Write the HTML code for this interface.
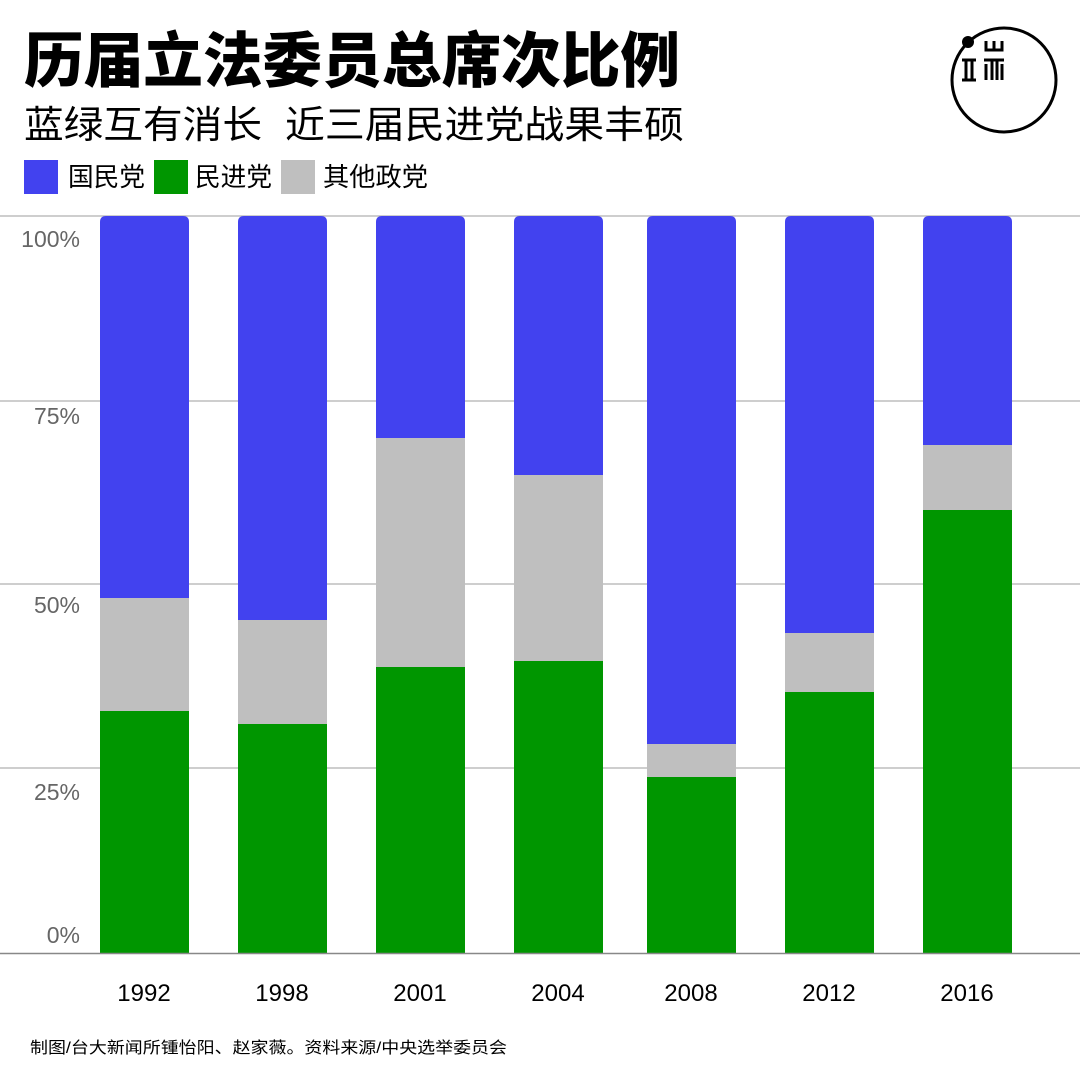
<!DOCTYPE html>
<html><head><meta charset="utf-8"><style>
html,body{margin:0;padding:0;background:#fff;}
svg{display:block;}
</style></head><body>
<svg width="1080" height="1080" viewBox="0 0 1080 1080" xmlns="http://www.w3.org/2000/svg" font-family="'Liberation Sans','Noto Sans CJK SC',sans-serif">
<text x="24" y="82" font-size="60" font-weight="900" textLength="656" lengthAdjust="spacingAndGlyphs" fill="#000">历届立法委员总席次比例</text>
<text x="24" y="138" font-size="38" textLength="238" lengthAdjust="spacingAndGlyphs" fill="#000">蓝绿互有消长</text>
<text x="285" y="138" font-size="38" textLength="399" lengthAdjust="spacingAndGlyphs" fill="#000">近三届民进党战果丰硕</text>
<rect x="24" y="160" width="34" height="34" fill="#4242ef"/>
<text x="68" y="186" font-size="26" textLength="77" lengthAdjust="spacingAndGlyphs">国民党</text>
<rect x="154" y="160" width="34" height="34" fill="#009600"/>
<text x="195" y="186" font-size="26" textLength="77" lengthAdjust="spacingAndGlyphs">民进党</text>
<rect x="281" y="160" width="34" height="34" fill="#bfbfbf"/>
<text x="323" y="186" font-size="26" textLength="105" lengthAdjust="spacingAndGlyphs">其他政党</text>
<circle cx="1004" cy="80" r="52" fill="none" stroke="#000" stroke-width="3"/>
<circle cx="968" cy="42" r="6" fill="#000"/>
<g stroke="#000" stroke-width="3" fill="none">
<path d="M962 60h14M966 60v20M972 60v20M962 80h14"/>
<path d="M986 41v9h16v-9M994 41v9"/>
<path d="M984 60h20M986 64v16M1002 64v16M992 60v20M997 60v20"/>
</g>
<g stroke="#bdbdbd" stroke-width="1.5">
<line x1="0" y1="216" x2="1080" y2="216"/><line x1="0" y1="401" x2="1080" y2="401"/>
<line x1="0" y1="584" x2="1080" y2="584"/><line x1="0" y1="768" x2="1080" y2="768"/>
</g>
<g font-size="23" fill="#666" text-anchor="end">
<text x="80" y="247">100%</text><text x="80" y="424">75%</text><text x="80" y="613">50%</text><text x="80" y="800">25%</text><text x="80" y="943">0%</text>
</g>
<g>
<path d="M100 953V222q0-6 6-6h77q6 0 6 6V953z" fill="#4242ef"/><rect x="100" y="598" width="89" height="355" fill="#bfbfbf"/><rect x="100" y="711" width="89" height="242" fill="#009600"/>
<path d="M238 953V222q0-6 6-6h77q6 0 6 6V953z" fill="#4242ef"/><rect x="238" y="620" width="89" height="333" fill="#bfbfbf"/><rect x="238" y="724" width="89" height="229" fill="#009600"/>
<path d="M376 953V222q0-6 6-6h77q6 0 6 6V953z" fill="#4242ef"/><rect x="376" y="438" width="89" height="515" fill="#bfbfbf"/><rect x="376" y="667" width="89" height="286" fill="#009600"/>
<path d="M514 953V222q0-6 6-6h77q6 0 6 6V953z" fill="#4242ef"/><rect x="514" y="475" width="89" height="478" fill="#bfbfbf"/><rect x="514" y="661" width="89" height="292" fill="#009600"/>
<path d="M647 953V222q0-6 6-6h77q6 0 6 6V953z" fill="#4242ef"/><rect x="647" y="744" width="89" height="209" fill="#bfbfbf"/><rect x="647" y="777" width="89" height="176" fill="#009600"/>
<path d="M785 953V222q0-6 6-6h77q6 0 6 6V953z" fill="#4242ef"/><rect x="785" y="633" width="89" height="320" fill="#bfbfbf"/><rect x="785" y="692" width="89" height="261" fill="#009600"/>
<path d="M923 953V222q0-6 6-6h77q6 0 6 6V953z" fill="#4242ef"/><rect x="923" y="445" width="89" height="508" fill="#bfbfbf"/><rect x="923" y="510" width="89" height="443" fill="#009600"/>
</g>
<line x1="0" y1="953.5" x2="1080" y2="953.5" stroke="#888" stroke-width="1.5"/>
<g font-size="24" fill="#000" text-anchor="middle">
<text x="144" y="1001">1992</text><text x="282" y="1001">1998</text><text x="420" y="1001">2001</text><text x="558" y="1001">2004</text><text x="691" y="1001">2008</text><text x="829" y="1001">2012</text><text x="967" y="1001">2016</text>
</g>
<text x="30" y="1053" font-size="16" textLength="477" lengthAdjust="spacingAndGlyphs" fill="#000">制图/台大新闻所锺怡阳、赵家薇。资料来源/中央选举委员会</text>
</svg>
</body></html>
